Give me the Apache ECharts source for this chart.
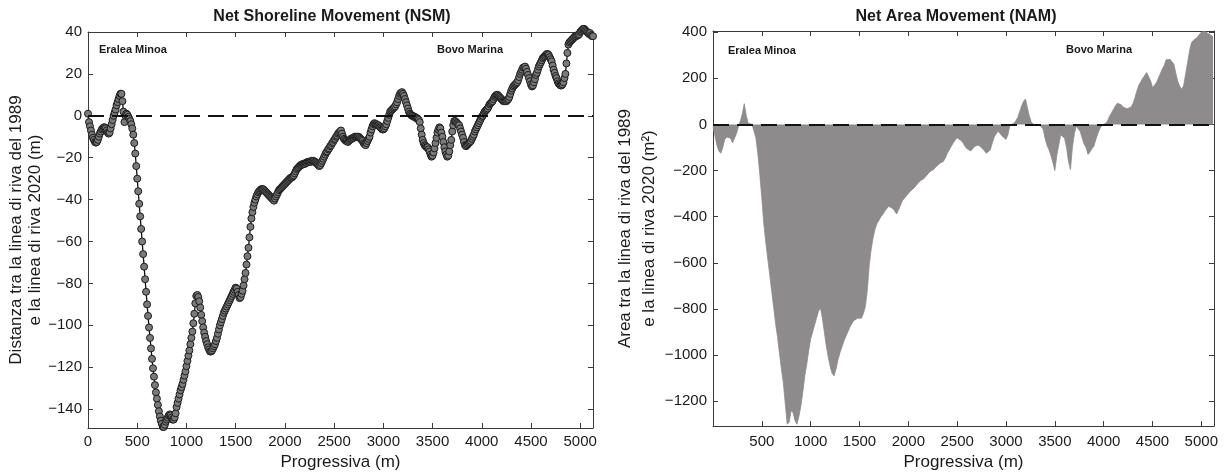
<!DOCTYPE html>
<html><head><meta charset="utf-8">
<script src="https://cdn.jsdelivr.net/npm/echarts@6/dist/echarts.min.js"></script>
<style>html,body{margin:0;padding:0;background:#fff}#c{width:1230px;height:476px}</style>
</head><body><div id="c"></div><script>
// ---- DATA ----
// Transect spacing (m) for each series
const NSM_STEP_M = 10;
const NAM_STEP_M = 20;
// Net Shoreline Movement (m), one value per transect from 0 m
const nsmValues = [
 1, -3, -5, -7, -9, -10.5, -11.5, -12.5, -12.8, -12.5,
 -11.5, -10, -8.5, -7.5, -6.5, -6, -5.5, -5.5, -6, -7,
 -8, -8.5, -8, -6, -4, -2, 0, 1.5, 3, 5,
 6.5, 8, 9.5, 10.5, 10.5, 7, 2, -3, 0, 1,
 0.5, -0.5, -1.5, -2.5, -4, -6, -9, -13, -18, -24,
 -30, -36, -42, -48, -54, -60, -66, -72, -78, -84,
 -90, -95.5, -101, -106, -111, -116, -120.5, -124.5, -128.5, -132,
 -135, -138, -141, -143.5, -145.5, -147, -148.5, -148.5, -147.5, -146,
 -145, -144, -143, -142.5, -143, -144, -145, -145, -144, -142,
 -139, -137, -135, -133, -131, -129.5, -128, -126, -124, -122,
 -119.5, -117, -114.5, -112, -109, -106, -103, -99, -94.5, -89.5,
 -86, -85.5, -86.5, -88.5, -91.5, -95, -98, -101, -103.5, -105.5,
 -107.5, -109, -110.5, -111.5, -112.5, -112.5, -112, -111, -110, -109,
 -107.5, -106, -104, -102, -100, -98.5, -97, -95.5, -94, -93,
 -92, -91, -90, -89, -88, -87, -86, -85, -84, -83,
 -82, -82.5, -84, -85.5, -87, -86.5, -85, -83.5, -81, -78,
 -75, -71, -67, -63, -58, -53, -49, -46, -43.5, -41.5,
 -40, -38.5, -37.5, -36.5, -36, -35.5, -35, -35, -35, -35.5,
 -36, -36.5, -37, -37.5, -38, -38.5, -39, -39.5, -40, -40.5,
 -39.5, -38.5, -37.5, -36.5, -35.5, -35, -34.5, -34, -33.5, -33,
 -32.5, -32, -31.5, -31, -30.5, -30, -29.5, -29.5, -29, -28.5,
 -27.5, -26.5, -25.5, -25, -24.5, -24, -23.5, -23.5, -23, -23,
 -23, -22.5, -22.5, -22, -22, -22, -22, -21.5, -21.5, -21.5,
 -22, -22, -22.5, -23, -23.5, -24, -23.5, -22.5, -21.5, -20.5,
 -19.5, -18.5, -17.5, -17, -16, -15.5, -14.5, -14, -13, -12.5,
 -11.5, -11, -10, -9.5, -8.5, -8, -7.5, -7, -8.5, -10,
 -11, -11.5, -12, -12, -12.5, -12, -11.5, -11, -11, -10.5,
 -10.5, -10, -10, -10, -10, -10, -10.5, -11, -11.5, -12,
 -13, -13.5, -14, -13, -12, -11, -10, -8, -6.5, -5,
 -4, -3.5, -4, -4, -4.5, -4.5, -5, -5.5, -6, -6.5,
 -6.5, -6, -5, -4, -2.5, -1, 0.5, 2, 2.5, 3,
 3.5, 4, 4.5, 5.5, 6.5, 8, 9.5, 10.5, 11, 11.3,
 10.5, 9.5, 8, 6.5, 5, 3.5, 2, 1, 0.5, 0,
 0, -0.5, -0.5, -1, -1, -1.5, -2, -3, -6, -9,
 -11.5, -13, -14, -14.5, -15, -15, -16, -17, -18.5, -19.5,
 -19, -17.5, -15.5, -13, -10.5, -8, -6.5, -5.5, -6, -8,
 -10, -12.5, -15, -17, -18.5, -19.5, -19, -17, -14, -11.5,
 -7.5, -4.5, -2.5, -2.5, -3, -3.5, -4, -4.5, -6, -7.5,
 -9, -10.5, -12.5, -14, -14.5, -14, -13.5, -13, -12.5, -12,
 -11, -10, -9, -7.5, -6.5, -5.5, -4.5, -3.5, -2.5, -1.5,
 -0.5, 0, 1, 2, 2.5, 3, 3.5, 4.5, 5.5, 6,
 6.5, 7, 8, 9, 9.5, 10, 10, 9.5, 9, 8.5,
 8, 7.5, 7, 7, 7, 7, 7.5, 8, 9, 10.5,
 12, 13, 14, 14.5, 15, 15.5, 16, 17, 18.5, 20,
 21, 22, 23, 23, 23.5, 22.5, 21, 19.5, 18, 16.5,
 15, 14, 14.5, 16, 17.5, 19.5, 20.5, 22, 23.5, 24.5,
 25.5, 26.5, 27.5, 28, 28.5, 29, 29.5, 29.5, 29, 28,
 27, 26, 24, 22, 20.5, 19, 18, 16.5, 15.5, 15,
 14.5, 14.5, 15, 16, 18, 20, 25, 30, 34, 35,
 35.5, 36, 36.5, 37, 37.5, 38, 38, 38.5, 38.5, 39,
 40, 40.5, 41, 41.5, 41.5, 41, 40.5, 40, 39.5, 39,
 39.5, 38.5, 38, 38
];
// Net Area Movement (m^2), one value every NAM_STEP_M from 0 m
const namValues = [
 -10, -50, -90, -115, -125, -100, -65, -55, -50, -60,
 -80, -85, -40, -10, 15, 45, 90, 40, 5, 0,
 0, -5, -60, -130, -220, -320, -430, -510, -580, -650,
 -720, -790, -860, -920, -990, -1060, -1120, -1210, -1300, -1290,
 -1240, -1250, -1285, -1300, -1265, -1220, -1160, -1090, -1040, -980,
 -930, -900, -870, -840, -810, -795, -840, -900, -960, -1010,
 -1050, -1080, -1090, -1060, -1020, -990, -965, -940, -920, -900,
 -880, -865, -851, -845, -840, -838, -840, -820, -790, -720,
 -610, -540, -490, -452, -430, -415, -400, -390, -375, -365,
 -355, -352, -365, -375, -388, -370, -350, -330, -320, -310,
 -300, -290, -285, -275, -265, -255, -245, -240, -235, -225,
 -215, -205, -200, -195, -185, -180, -170, -165, -160, -145,
 -125, -110, -95, -80, -68, -58, -52, -70, -80, -95,
 -105, -110, -115, -108, -95, -88, -90, -95, -105, -115,
 -125, -130, -110, -80, -55, -40, -30, -40, -50, -58,
 -65, -45, -5, 0, 5, 15, 30, 55, 80, 100,
 110, 70, 35, 8, 0, -5, -10, 0, 0, -20,
 -60, -90, -110, -135, -165, -200, -135, -90, -45, -40,
 -60, -100, -160, -196, -100, -40, -8, 0, -30, -60,
 -85, -100, -130, -120, -105, -95, -65, -40, -20, -5,
 0, 5, 15, 35, 50, 65, 80, 92, 95, 85,
 75, 70, 68, 67, 75, 90, 115, 145, 170, 185,
 200, 212, 225, 231, 190, 160, 170, 181, 200, 220,
 240, 255, 280, 288, 282, 272, 260, 220, 185, 165,
 152, 170, 220, 270, 320, 355, 365, 370, 378, 390,
 400, 405, 402, 398, 392, 385, 380
];
// Tick labels
const xTicksNSM = [0, 500, 1000, 1500, 2000, 2500, 3000, 3500, 4000, 4500, 5000];
const yTicksNSM = [-140, -120, -100, -80, -60, -40, -20, 0, 20, 40];
const xTicksNAM = [500, 1000, 1500, 2000, 2500, 3000, 3500, 4000, 4500, 5000];
const yTicksNAM = [-1200, -1000, -800, -600, -400, -200, 0, 200, 400];
// Axis ranges
const X_MAX = 5130;
const NSM_RANGE = [-149, 40];
const NAM_RANGE = [-1308, 405];

// ---- CHART ----
const FONT = "'Liberation Sans', Arial, Helvetica, sans-serif";
const TXT = '#1a1a1a';
const AX = '#3a3a3a';
const fmt = v => String(v).replace('-', '\u2212');

const nsmData = nsmValues.map((v, i) => [i * NSM_STEP_M, v]);
const namData = namValues.map((v, i) => [i * NAM_STEP_M, v]);

function xAx(grid, ticks, pos, nameGap, margin) {
  const main = pos === 'bottom';
  return {
    gridIndex: grid, type: 'value', min: 0, max: X_MAX, position: pos,
    axisLine: {show: true, onZero: false, lineStyle: {color: AX, width: 1}},
    axisTick: {show: true, inside: true, length: 5, customValues: ticks, lineStyle: {color: AX}},
    axisLabel: {show: main, customValues: ticks, margin: margin, fontSize: 15, fontFamily: FONT, color: TXT, formatter: fmt},
    splitLine: {show: false},
    name: main ? 'Progressiva (m)' : '', nameLocation: 'middle', nameGap: nameGap,
    nameTextStyle: {fontSize: 17, fontFamily: FONT, color: TXT}
  };
}
function yAx(grid, ticks, range, pos, name, nameGap, lh) {
  const main = pos === 'left';
  return {
    gridIndex: grid, type: 'value', min: range[0], max: range[1], position: pos,
    axisLine: {show: true, onZero: false, lineStyle: {color: AX, width: 1}},
    axisTick: {show: true, inside: true, length: 5, customValues: ticks, lineStyle: {color: AX}},
    axisLabel: {show: main, customValues: ticks, margin: 6, fontSize: 15, fontFamily: FONT, color: TXT, formatter: fmt},
    splitLine: {show: false},
    name: main ? name : '', nameLocation: 'middle', nameRotate: 90, nameGap: nameGap,
    nameTextStyle: {fontSize: 17, fontFamily: FONT, color: TXT, lineHeight: lh, align: 'center'}
  };
}
const zeroLine = {
  silent: true, symbol: 'none', label: {show: false},
  lineStyle: {type: [16, 8], color: '#111', width: 2},
  data: [{yAxis: 0}], animation: false
};

const option = {
  backgroundColor: '#fff',
  animation: false,
  grid: [
    {left: 88, top: 32, width: 505, height: 398},
    {left: 713, top: 31, width: 501, height: 401}
  ],
  xAxis: [
    xAx(0, xTicksNSM, 'bottom', 26, 6),
    xAx(0, xTicksNSM, 'top', 0, 6),
    xAx(1, xTicksNAM, 'bottom', 27, 8),
    xAx(1, xTicksNAM, 'top', 0, 8)
  ],
  yAxis: [
    yAx(0, yTicksNSM, NSM_RANGE, 'left', 'Distanza tra la linea di riva del 1989\ne la linea di riva 2020 (m)', 39, 19),
    yAx(0, yTicksNSM, NSM_RANGE, 'right', '', 0, 19),
    yAx(1, yTicksNAM, NAM_RANGE, 'left', 'Area tra la linea di riva del 1989\ne la linea di riva 2020 (m\u00B2)', 50, 24),
    yAx(1, yTicksNAM, NAM_RANGE, 'right', '', 0, 24)
  ],
  series: [
    {
      type: 'line', xAxisIndex: 2, yAxisIndex: 2, data: namData,
      symbol: 'none', clip: true,
      lineStyle: {color: '#8d8b8b', width: 0.8},
      areaStyle: {color: '#8d8b8b', opacity: 1},
      markLine: zeroLine, z: 2
    },
    {
      type: 'line', xAxisIndex: 0, yAxisIndex: 0, data: nsmData,
      symbol: 'circle', symbolSize: 7, clip: false,
      lineStyle: {color: '#111', width: 1.3},
      itemStyle: {color: '#7a7a7a', borderColor: '#1c1c1c', borderWidth: 1},
      markLine: zeroLine, z: 2
    }
  ],
  graphic: [
    {type: 'text', x: 332, y: 17, style: {text: 'Net Shoreline Movement (NSM)', fontSize: 16, fontWeight: 'bold', fontFamily: FONT, fill: TXT, align: 'center', verticalAlign: 'middle'}},
    {type: 'text', x: 956, y: 17, style: {text: 'Net Area Movement (NAM)', fontSize: 16, fontWeight: 'bold', fontFamily: FONT, fill: TXT, align: 'center', verticalAlign: 'middle'}},
    {type: 'text', x: 99, y: 50, style: {text: 'Eralea Minoa', fontSize: 11, fontWeight: 'bold', fontFamily: FONT, fill: TXT, align: 'left', verticalAlign: 'middle'}},
    {type: 'text', x: 437, y: 50, style: {text: 'Bovo Marina', fontSize: 11, fontWeight: 'bold', fontFamily: FONT, fill: TXT, align: 'left', verticalAlign: 'middle'}},
    {type: 'text', x: 728, y: 51, style: {text: 'Eralea Minoa', fontSize: 11, fontWeight: 'bold', fontFamily: FONT, fill: TXT, align: 'left', verticalAlign: 'middle'}},
    {type: 'text', x: 1066, y: 50, style: {text: 'Bovo Marina', fontSize: 11, fontWeight: 'bold', fontFamily: FONT, fill: TXT, align: 'left', verticalAlign: 'middle'}}
  ]
};
const chart = echarts.init(document.getElementById('c'), null, {renderer: 'canvas'});
chart.setOption(option);
</script></body></html>
